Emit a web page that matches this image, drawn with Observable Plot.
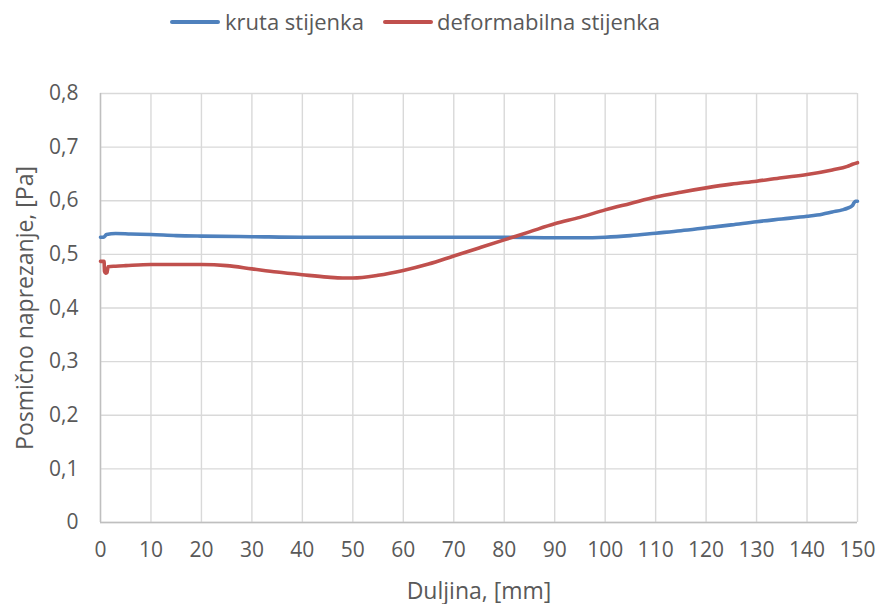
<!DOCTYPE html>
<html>
<head>
<meta charset="utf-8">
<script src="https://cdn.jsdelivr.net/npm/d3@7"></script>
<script src="https://cdn.jsdelivr.net/npm/@observablehq/plot@0.6"></script>
<style>
  html, body { margin: 0; padding: 0; background: #fff; }
  #wrap { position: relative; width: 877px; height: 604px; font-family: "Open Sans", sans-serif; color: #595959; }
  #legend { position: relative; height: 45px; width: 877px; }
  .sw { position: absolute; top: 20px; width: 50px; height: 4px; border-radius: 2px; }
  .lt { position: absolute; top: 5px; font-size: 22px; line-height: 32px; color: #595959; white-space: nowrap; }
  svg { display: block; }
</style>
</head>
<body>
<div id="wrap">
  <div id="legend"></div>
  <div id="chart"></div>
</div>
<script>
// Series names and colours
const seriesNames = ["kruta stijenka", "deformabilna stijenka"];
const seriesColors = ["#4f81bd", "#c0504d"];

// kruta stijenka (rigid wall)
const krutaX = [0, 0.6, 1.2, 3, 6, 10, 15, 20, 30, 40, 50, 60, 70, 80, 90, 95, 100, 105, 110, 115, 120, 125, 130, 135, 140, 143, 145, 147, 148, 149, 149.3, 149.6, 150];
const krutaY = [0.532, 0.532, 0.537, 0.539, 0.538, 0.537, 0.535, 0.534, 0.533, 0.532, 0.532, 0.532, 0.532, 0.532, 0.531, 0.531, 0.532, 0.535, 0.5395, 0.544, 0.5495, 0.555, 0.561, 0.566, 0.571, 0.575, 0.579, 0.583, 0.586, 0.591, 0.596, 0.599, 0.599];

// deformabilna stijenka (deformable wall)
const deformX = [0, 0.7, 0.8, 1.0, 1.3, 1.5, 3, 5, 10, 15, 20, 25, 30, 35, 40, 45, 48, 50, 55, 60, 65, 70, 75, 80, 85, 90, 95, 100, 105, 110, 115, 120, 125, 130, 135, 140, 145, 148, 149, 150];
const deformY = [0.487, 0.487, 0.468, 0.465, 0.466, 0.477, 0.478, 0.479, 0.481, 0.481, 0.481, 0.479, 0.473, 0.467, 0.462, 0.4575, 0.456, 0.456, 0.461, 0.470, 0.482, 0.497, 0.512, 0.527, 0.542, 0.557, 0.569, 0.583, 0.595, 0.607, 0.616, 0.624, 0.631, 0.6365, 0.643, 0.649, 0.6575, 0.664, 0.668, 0.671];

// Tick values
const xTicks = [0, 10, 20, 30, 40, 50, 60, 70, 80, 90, 100, 110, 120, 130, 140, 150];
const yTicks = [0, 0.1, 0.2, 0.3, 0.4, 0.5, 0.6, 0.7, 0.8];

const xTitle = "Duljina, [mm]";
const yTitle = "Posmično naprezanje, [Pa]";

const data = [
  ...krutaX.map((x, i) => ({x, y: krutaY[i], s: seriesNames[0]})),
  ...deformX.map((x, i) => ({x, y: deformY[i], s: seriesNames[1]}))
];

const fmtY = d => d === 0 ? "0" : d.toFixed(1).replace(".", ",");

const chart = Plot.plot({
  width: 877,
  height: 559,
  marginTop: 48,
  marginBottom: 82,
  marginLeft: 100,
  marginRight: 20,
  style: {fontFamily: "Open Sans, sans-serif", fontSize: "21px", color: "#595959", background: "#fff"},
  x: {domain: [0, 150]},
  y: {domain: [0, 0.8]},
  color: {domain: seriesNames, range: seriesColors},
  marks: [
    Plot.gridX(xTicks, {stroke: "#d9d9d9", strokeOpacity: 1, strokeWidth: 1.4}),
    Plot.gridY(yTicks, {stroke: "#d9d9d9", strokeOpacity: 1, strokeWidth: 1.4}),
    Plot.ruleY([0], {stroke: "#bfbfbf", strokeWidth: 1.4}),
    Plot.ruleX([0], {stroke: "#bfbfbf", strokeWidth: 1.4}),
    Plot.axisX({ticks: xTicks, tickSize: 0, tickPadding: 20, tickFormat: d => String(d),
      label: xTitle, labelAnchor: "center", labelArrow: "none", labelOffset: 76, fontSize: 21}),
    Plot.axisY({ticks: yTicks, tickSize: 0, tickPadding: 22, tickFormat: fmtY,
      label: yTitle, labelAnchor: "center", labelArrow: "none", labelOffset: 84, fontSize: 21}),
    Plot.line(data, {x: "x", y: "y", z: "s", stroke: "s", strokeWidth: 3.6, strokeLinecap: "round", strokeLinejoin: "round", curve: "monotone-x"})
  ]
});

// axis titles size
chart.querySelectorAll('g[aria-label="x-axis label"], g[aria-label="y-axis label"]').forEach(g => {
  g.setAttribute("font-size", "23");
  g.style.fontSize = "23px";
  g.querySelectorAll("text").forEach(t => { t.setAttribute("font-size", "23"); t.style.fontSize = "23px"; });
});
document.getElementById("chart").appendChild(chart);

// legend
const legend = document.getElementById("legend");
const legendPos = [{sw: 170, tx: 225}, {sw: 383, tx: 437}];
seriesNames.forEach((name, i) => {
  const sw = document.createElement("div");
  sw.className = "sw";
  sw.style.left = legendPos[i].sw + "px";
  sw.style.background = seriesColors[i];
  legend.appendChild(sw);
  const t = document.createElement("div");
  t.className = "lt";
  t.style.left = legendPos[i].tx + "px";
  t.textContent = name;
  legend.appendChild(t);
});
</script>
</body>
</html>
